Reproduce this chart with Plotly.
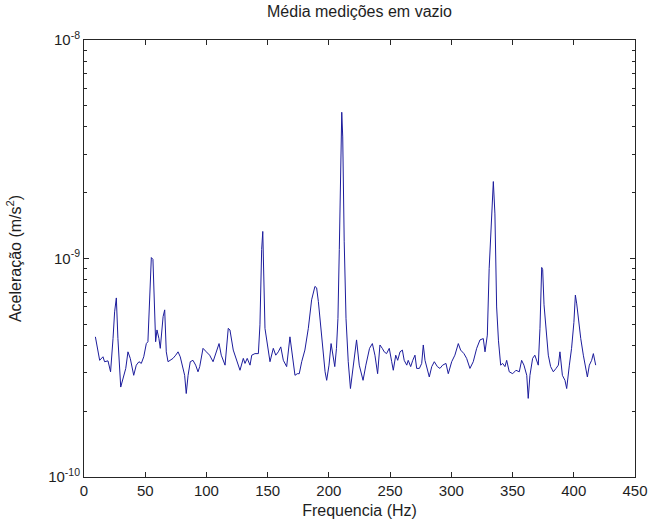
import plotly.graph_objects as go

# Frequency (Hz) and mean acceleration (m/s^2) of the empty-run measurements
freq_hz = [
    9.3, 11.4, 12.8, 15.5, 16.8, 19.6, 21.7, 23.7, 25.0, 26.4, 27.7, 30.0, 31.8, 34.1, 35.9,
    37.8, 40.6, 42.7, 44.9, 46.8, 48.8, 50.9, 52.2, 53.7, 55.0, 56.3, 57.7, 58.5, 59.6, 61.2,
    62.3, 64.6, 65.9, 67.2, 68.6, 70.5, 72.7, 74.9, 76.8, 78.6, 80.3, 82.2, 83.5, 85.0, 86.8,
    89.0, 91.2, 93.1, 94.5, 97.2, 99.9, 102.6, 105.4, 108.0, 110.3, 112.1, 115.2, 117.8, 119.2,
    121.9, 124.7, 127.4, 130.1, 131.5, 133.3, 135.6, 137.0, 139.6, 142.4, 143.7, 145.1, 146.0,
    147.8, 149.2, 151.9, 154.6, 156.6, 158.7, 160.7, 162.8, 165.5, 168.2, 169.6, 172.3, 174.2,
    175.8, 177.8, 180.4, 183.2, 185.9, 188.6, 190.0, 191.4, 194.1, 196.9, 198.2, 200.1, 201.8,
    203.4, 204.8, 206.2, 207.4, 208.5, 209.5, 210.5, 211.3, 212.5, 214.0, 215.8, 217.6, 220.4,
    222.6, 224.8, 227.9, 230.2, 233.2, 235.5, 237.6, 239.8, 241.7, 243.6, 245.2, 247.1, 249.3,
    251.3, 252.6, 254.6, 256.2, 258.1, 260.0, 261.5, 263.6, 264.8, 266.8, 268.5, 270.3, 271.7,
    273.9, 275.8, 277.1, 278.5, 280.4, 282.0, 284.0, 286.1, 288.6, 290.7, 292.9, 295.6, 297.5,
    300.3, 302.9, 304.4, 305.7, 307.6, 310.3, 312.5, 315.2, 317.9, 320.7, 323.4, 326.1, 327.5,
    329.4, 330.9, 332.4, 334.3, 335.6, 337.0, 338.5, 340.3, 341.9, 343.8, 345.2, 347.3, 350.1,
    352.8, 355.5, 357.4, 359.3, 361.6, 362.8, 364.2, 366.4, 368.2, 371.0, 372.4, 373.8, 374.6,
    375.7, 377.3, 379.2, 381.1, 383.3, 385.5, 387.4, 388.7, 390.7, 392.8, 394.2, 396.4, 398.2,
    400.1, 401.3, 402.4, 403.7, 405.7, 407.8, 409.7, 411.1, 412.7, 414.6, 416.0, 417.9,
]

accel = [
    4.38e-10, 3.74e-10, 3.42e-10, 3.55e-10, 3.37e-10, 3.40e-10, 3.03e-10, 4.30e-10, 5.70e-10,
    6.60e-10, 4.30e-10, 2.58e-10, 2.82e-10, 3.14e-10, 3.74e-10, 3.49e-10, 2.92e-10, 3.25e-10,
    3.37e-10, 3.31e-10, 3.55e-10, 4.08e-10, 4.16e-10, 6.82e-10, 1.01e-9, 9.9e-10, 5.9e-10,
    4.16e-10, 4.71e-10, 4.30e-10, 3.88e-10, 5.42e-10, 5.82e-10, 3.74e-10, 3.37e-10, 3.42e-10,
    3.49e-10, 3.61e-10, 3.74e-10, 3.55e-10, 3.25e-10, 2.92e-10, 2.41e-10, 2.92e-10, 3.37e-10,
    3.42e-10, 3.25e-10, 3.03e-10, 3.20e-10, 3.88e-10, 3.74e-10, 3.61e-10, 3.37e-10, 3.74e-10,
    4.08e-10, 3.61e-10, 3.25e-10, 4.79e-10, 4.71e-10, 3.81e-10, 3.42e-10, 3.08e-10, 3.49e-10,
    3.31e-10, 3.49e-10, 3.25e-10, 3.61e-10, 3.67e-10, 3.67e-10, 4.97e-10, 1.10e-9, 1.33e-9,
    4.79e-10, 4.30e-10, 3.37e-10, 3.88e-10, 3.61e-10, 3.74e-10, 3.94e-10, 3.42e-10, 3.20e-10,
    4.38e-10, 3.88e-10, 2.92e-10, 2.97e-10, 2.97e-10, 3.37e-10, 3.81e-10, 4.79e-10, 6.47e-10,
    7.45e-10, 7.34e-10, 6.35e-10, 4.30e-10, 3.03e-10, 2.77e-10, 3.25e-10, 4.08e-10, 3.55e-10,
    3.20e-10, 3.88e-10, 5.32e-10, 1.10e-9, 3.0e-9, 4.67e-9, 3.6e-9, 1.2e-9, 5.3e-10, 3.37e-10,
    2.54e-10, 3.37e-10, 4.24e-10, 3.25e-10, 2.77e-10, 3.25e-10, 3.88e-10, 4.08e-10, 3.61e-10,
    2.97e-10, 4.02e-10, 3.88e-10, 3.74e-10, 3.67e-10, 3.88e-10, 3.37e-10, 3.08e-10, 3.61e-10,
    3.42e-10, 3.74e-10, 3.81e-10, 3.42e-10, 3.25e-10, 3.42e-10, 3.20e-10, 3.42e-10, 3.61e-10,
    3.14e-10, 3.14e-10, 3.31e-10, 4.02e-10, 3.42e-10, 3.14e-10, 2.87e-10, 3.20e-10, 3.37e-10,
    3.20e-10, 3.14e-10, 3.25e-10, 3.31e-10, 2.97e-10, 3.37e-10, 3.61e-10, 3.88e-10, 4.08e-10,
    3.81e-10, 3.67e-10, 3.49e-10, 3.14e-10, 3.37e-10, 3.88e-10, 4.24e-10, 4.30e-10, 3.74e-10,
    4.46e-10, 9.0e-10, 1.45e-9, 2.25e-9, 1.60e-9, 6.0e-10, 4.2e-10, 3.25e-10, 3.31e-10,
    3.20e-10, 3.42e-10, 3.03e-10, 2.97e-10, 3.08e-10, 3.03e-10, 3.42e-10, 3.25e-10, 2.92e-10,
    2.29e-10, 2.92e-10, 3.49e-10, 3.61e-10, 3.25e-10, 4.79e-10, 9.1e-10, 8.9e-10, 6.14e-10,
    4.79e-10, 3.61e-10, 3.20e-10, 3.03e-10, 3.14e-10, 3.25e-10, 3.74e-10, 2.92e-10, 2.77e-10,
    2.54e-10, 3.25e-10, 3.88e-10, 5.1e-10, 6.8e-10, 6.2e-10, 5.3e-10, 4.3e-10, 3.61e-10,
    3.14e-10, 2.87e-10, 3.25e-10, 3.42e-10, 3.67e-10, 3.25e-10,
]

x_ticks = [0, 50, 100, 150, 200, 250, 300, 350, 400, 450]
y_ticks = [1e-10, 1e-9, 1e-8]
y_tick_text = ["10<sup>-10</sup>", "10<sup>-9</sup>", "10<sup>-8</sup>"]
y_minor = [m * 10.0 ** e for e in (-10, -9) for m in range(2, 10)]

title_text = "Média medições em vazio"
x_title = "Frequencia (Hz)"
y_title = "Aceleração (m/s<sup>2</sup>)"

FONT = "Liberation Sans, Arial, sans-serif"
TEXT_COLOR = "#1e1e1e"
AXIS_COLOR = "#262626"

fig = go.Figure(
    go.Scatter(
        x=freq_hz,
        y=accel,
        mode="lines",
        line=dict(color="#1c1c9c", width=1),
        hoverinfo="x+y",
    )
)

fig.update_layout(
    width=660,
    height=528,
    margin=dict(l=84, r=14, t=40, b=50),
    paper_bgcolor="white",
    plot_bgcolor="white",
    showlegend=False,
    font=dict(family=FONT, size=15, color=TEXT_COLOR),
    title=dict(
        text=title_text,
        x=0.5,
        xanchor="center",
        xref="paper",
        y=1 - 11 / 528,
        yanchor="middle",
        font=dict(family=FONT, size=16, color=TEXT_COLOR),
    ),
)

fig.update_xaxes(
    range=[0, 450],
    tickvals=x_ticks,
    ticktext=[str(v) for v in x_ticks],
    ticks="inside",
    ticklen=5,
    tickcolor=AXIS_COLOR,
    showline=True,
    linecolor=AXIS_COLOR,
    linewidth=1,
    mirror="ticks",
    showgrid=False,
    zeroline=False,
    title=dict(text=x_title, standoff=6, font=dict(family=FONT, size=16)),
    tickfont=dict(family=FONT, size=15),
)

fig.update_yaxes(
    type="log",
    range=[-10, -8],
    tickvals=y_ticks,
    ticktext=y_tick_text,
    ticks="inside",
    ticklen=5,
    tickcolor=AXIS_COLOR,
    minor=dict(tickvals=y_minor, ticks="inside", ticklen=3, tickcolor=AXIS_COLOR, showgrid=False),
    showline=True,
    linecolor=AXIS_COLOR,
    linewidth=1,
    mirror="ticks",
    showgrid=False,
    zeroline=False,
    title=dict(text=y_title, standoff=22, font=dict(family=FONT, size=16)),
    tickfont=dict(family=FONT, size=15),
)

fig.write_html("out.html")
